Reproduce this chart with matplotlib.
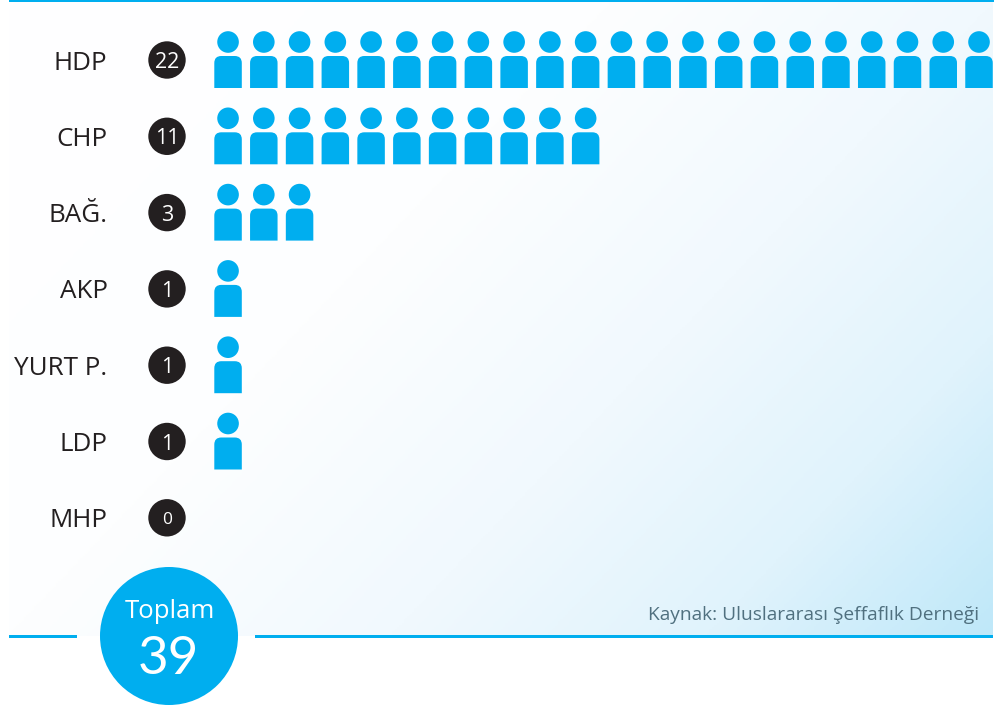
import numpy as np
import matplotlib
matplotlib.use('Agg')
import matplotlib.pyplot as plt
from matplotlib.colors import LinearSegmentedColormap
from matplotlib.patches import Circle, PathPatch, Rectangle
from matplotlib.path import Path

parties = ['HDP', 'CHP', 'BAĞ.', 'AKP', 'YURT P.', 'LDP', 'MHP']
counts = [22, 11, 3, 1, 1, 1, 0]
total = 39
total_label = 'Toplam'
source = 'Kaynak: Uluslararası Şeffaflık Derneği'

BLUE = '#00AEEF'
DARK = '#231F20'
W, H = 995, 708

plt.rcParams['font.family'] = ['Open Sans', 'DejaVu Sans']

fig = plt.figure(figsize=(W / 100, H / 100), dpi=100)
ax = fig.add_axes([0, 0, 1, 1])
ax.set_xlim(0, W)
ax.set_ylim(H, 0)
ax.axis('off')

# diagonal background wash, white at upper left and pale blue at lower right
gx, gy = np.meshgrid(np.linspace(0, 1, 400), np.linspace(0, 1, 300))
shade = 0.62 * gx + 0.38 * gy
wash = LinearSegmentedColormap.from_list(
    'wash', [(0, '#FFFFFF'), (0.38, '#FDFEFF'), (0.62, '#F1F9FE'),
             (0.82, '#E0F3FC'), (1, '#BFE8F9')])
ax.imshow(shade, cmap=wash, vmin=0, vmax=1, extent=(9, 993, 636, 2),
          aspect='auto', zorder=0)
ax.set_xlim(0, W)
ax.set_ylim(H, 0)

# rules
ax.add_patch(Rectangle((9, 0), 986, 2, color=BLUE, lw=0, zorder=1))
ax.add_patch(Rectangle((9, 634.5), 68, 3, color=BLUE, lw=0, zorder=1))
ax.add_patch(Rectangle((255, 634.5), 738, 3, color=BLUE, lw=0, zorder=1))


def person(x, base):
    # head plus a body with rounded shoulders, x is the left edge of the body
    w, h, r = 27.5, 32, 7
    top = base - h
    verts = [(x, base), (x, top + r), (x, top), (x + r, top),
             (x + w - r, top), (x + w, top), (x + w, top + r), (x + w, base),
             (x, base)]
    codes = [Path.MOVETO, Path.LINETO, Path.CURVE3, Path.CURVE3, Path.LINETO,
             Path.CURVE3, Path.CURVE3, Path.LINETO, Path.CLOSEPOLY]
    ax.add_patch(PathPatch(Path(verts, codes), fc=BLUE, ec='none', zorder=3))
    ax.add_patch(Circle((x + w / 2, base - 46), 10.8, fc=BLUE, ec='none', zorder=3))


for row, (party, n) in enumerate(zip(parties, counts)):
    base = 88 + row * 76.3
    mid = base - 28
    ax.text(107.5, mid, party, ha='right', va='center_baseline', fontsize=18.7,
            color=DARK, zorder=4)
    ax.add_patch(Circle((167, mid), 18.7, fc=DARK, ec='none', zorder=3))
    ax.text(167, mid, str(n), ha='center', va='center_baseline', fontsize=15.5 if n else 12.5,
            color='white', zorder=4)
    for i in range(n):
        person(214.3 + i * 35.76, base)

# total badge on the lower rule
ax.add_patch(Circle((169, 636), 69, fc=BLUE, ec='none', zorder=3))
ax.text(170, 612, total_label, ha='center', va='center', fontsize=18.5,
        color='white', zorder=4)
ax.text(168, 654.5, str(total), ha='center', va='center_baseline', fontsize=38,
        color='white', zorder=4, family=['Lato', 'DejaVu Sans'], fontweight='normal')

ax.text(979, 615, source, ha='right', va='center', fontsize=13.8, color='#50707F', zorder=4)

fig.savefig('out.png', dpi=100)
